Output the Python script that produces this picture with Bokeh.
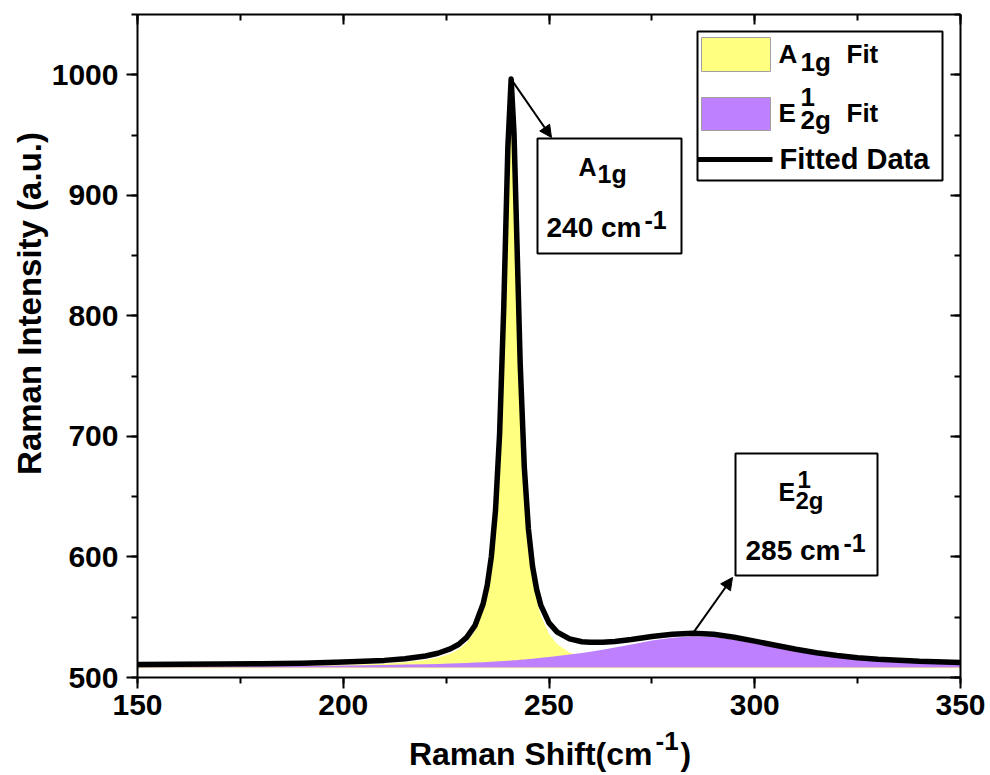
import math
from bokeh.plotting import figure
from bokeh.models import (Range1d, LinearAxis, SingleIntervalTicker, Label,
                          BoxAnnotation, Arrow, NormalHead, CustomJSTickFormatter)
from bokeh.embed import file_html
from bokeh.resources import INLINE

# ---------------- data ----------------
shift = [150, 160, 170, 180, 190, 200, 205, 210, 215, 220, 223, 226, 228, 230,
         232, 234, 235, 236, 237, 238, 239, 240, 240.8, 241.5, 242, 243, 244,
         245, 246, 247, 248, 250, 252, 255, 258, 260, 263, 266, 270, 275, 280,
         285, 290, 295, 300, 305, 310, 315, 320, 325, 330, 340, 350]

a1g_fit = [509.3, 509.4, 509.5, 509.7, 509.9, 510.5, 510.9, 511.5, 512.6, 514.5,
           516.5, 519.8, 523.3, 528.9, 538.3, 556.2, 571.5, 595.1, 633.1, 696.6,
           800.5, 933.3, 990.0, 944.8, 881.2, 753.4, 667.1, 615.6, 584.4, 564.7,
           551.5, 536.0, 527.6, 520.7, 517.0, 515.5, 513.9, 512.8, 511.8, 511.1,
           510.6, 510.2, 510.0, 509.8, 509.7, 509.6, 509.5, 509.4, 509.4, 509.3,
           509.3, 509.2, 509.2]

e2g_fit = [509.2, 509.3, 509.4, 509.5, 509.7, 510.0, 510.2, 510.4, 510.7, 511.0,
           511.3, 511.6, 511.8, 512.1, 512.4, 512.7, 512.9, 513.1, 513.3, 513.5,
           513.7, 513.9, 514.1, 514.3, 514.4, 514.7, 515.0, 515.3, 515.6, 516.0,
           516.3, 517.0, 517.8, 519.0, 520.4, 521.4, 523.0, 524.8, 527.4, 530.6,
           533.0, 534.3, 533.6, 531.3, 528.2, 524.8, 521.6, 518.8, 516.5, 514.8,
           513.5, 511.9, 511.0]

fitted = [510.8, 511.0, 511.2, 511.5, 511.9, 512.8, 513.4, 514.2, 515.6, 517.8,
          520.1, 523.7, 527.4, 533.3, 543.0, 561.2, 576.7, 600.5, 638.7, 702.4,
          806.5, 939.5, 996.4, 951.4, 887.9, 760.4, 674.4, 623.2, 592.3, 573.0,
          560.1, 545.3, 537.7, 532.0, 529.7, 529.2, 529.2, 529.9, 531.5, 534.0,
          535.9, 536.8, 535.9, 533.4, 530.2, 526.7, 523.4, 520.5, 518.2, 516.4,
          515.1, 513.4, 512.5]

a1g_base = 507.6
e2g_base = 508.2

x_limits = [150, 350]
y_limits = [500, 1050]
x_tick_step = 50
y_tick_step = 100

# ---------------- layout ----------------
FONT = "Liberation Sans"
W, H = 990, 775
FL, FR, FT, FB = 137, 960, 14, 677          # pixel box of the axes
X0, X1 = x_limits
Y0, Y1 = y_limits


def dx(px):
    return X0 + (px - FL) * (X1 - X0) / (FR - FL)


def dy(py):
    return Y0 + (FB - py) * (Y1 - Y0) / (FB - FT)


p = figure(width=W, height=H,
           x_range=Range1d(dx(0), dx(W)), y_range=Range1d(dy(H), dy(0)),
           output_backend="svg", toolbar_location=None,
           min_border=0, min_border_left=0, min_border_right=0,
           min_border_top=0, min_border_bottom=0)
p.background_fill_color = "white"
p.border_fill_color = "white"
p.outline_line_color = None
p.xgrid.visible = False
p.ygrid.visible = False

# fills and fitted line
p.varea(x=shift, y1=a1g_base, y2=a1g_fit, fill_color="#FFFF80")
p.varea(x=shift, y1=e2g_base, y2=e2g_fit, fill_color="#BF80FF")
p.line(shift, fitted, line_color="black", line_width=5.5, line_join="round")


def style_axis(ax, outward, step, bounds, loc, labels=True):
    ax.ticker = SingleIntervalTicker(interval=step, num_minor_ticks=2)
    ax.bounds = tuple(bounds)
    ax.fixed_location = loc
    ax.axis_line_width = 2
    ax.axis_line_color = "black"
    ax.major_tick_line_width = 2
    ax.minor_tick_line_width = 2
    if outward:
        ax.major_tick_out, ax.major_tick_in = 11, 0
        ax.minor_tick_out, ax.minor_tick_in = 6, 0
    else:
        ax.major_tick_out, ax.major_tick_in = 0, 10
        ax.minor_tick_out, ax.minor_tick_in = 0, 6
    ax.major_label_text_font = FONT
    ax.major_label_text_font_style = "bold"
    ax.major_label_text_font_size = "30px"
    ax.major_label_text_color = "black"
    if not labels:
        ax.formatter = CustomJSTickFormatter(code="return ''")


xa = p.xaxis[0]
style_axis(xa, True, x_tick_step, x_limits, Y0)
xa.major_label_standoff = 6

ya = p.yaxis[0]
style_axis(ya, True, y_tick_step, y_limits, X0)
ya.major_label_standoff = 8

top = LinearAxis()
style_axis(top, False, x_tick_step, x_limits, Y1, labels=False)
p.add_layout(top, "above")

right = LinearAxis()
style_axis(right, False, y_tick_step, y_limits, X1, labels=False)
p.add_layout(right, "right")


def lab(txt, px, py, size, align="left", angle=0.0, baseline="alphabetic"):
    if baseline == "alphabetic":
        py = py - 0.35 * size      # compensate for the text box below the baseline
    p.add_layout(Label(x=dx(px), y=dy(py), text=txt, text_font=FONT,
                       text_font_size=f"{size}px", text_font_style="bold",
                       text_align=align, text_baseline=baseline,
                       angle=angle, text_color="black"))


def box(l, r, t, b, fill="white", line="black", lw=2):
    p.add_layout(BoxAnnotation(left=dx(l), right=dx(r), top=dy(t), bottom=dy(b),
                               fill_color=fill, fill_alpha=1,
                               line_color=line, line_width=lw, line_alpha=1))


# axis titles
lab("Raman Intensity (a.u.)", 29, 303, 33, "center", math.pi / 2, "middle")
lab("Raman Shift(cm", 652, 765, 32, "right")
lab("-1", 655, 750, 26)
lab(")", 680, 765, 32)

# arrows from peaks to annotation boxes
i_a = fitted.index(max(fitted))
p.add_layout(Arrow(x_start=shift[i_a], y_start=fitted[i_a], x_end=dx(551), y_end=dy(137),
                   line_width=2, line_color="black",
                   end=NormalHead(size=12, fill_color="black", line_color="black")))
i_e = shift.index(285)
p.add_layout(Arrow(x_start=shift[i_e], y_start=fitted[i_e], x_end=dx(732), y_end=dy(577),
                   line_width=2, line_color="black",
                   end=NormalHead(size=12, fill_color="black", line_color="black")))

# annotation box A1g
box(537, 681, 138, 253)
lab("A", 578, 175, 25)
lab("1g", 597, 182, 25)
lab("240 cm", 546, 237, 28)
lab("-1", 644, 228, 25)

# annotation box E2g
box(735, 877, 453, 575)
lab("E", 778, 500, 25)
lab("1", 797, 487, 24)
lab("2g", 795, 508, 24)
lab("285 cm", 745, 560, 28)
lab("-1", 843, 551, 25)

# legend
box(697, 942, 31, 180)
box(701, 770, 37, 71, fill="#FFFF80", line="#A0A0A0", lw=1)
box(701, 770, 97, 130, fill="#BF80FF", line="#A0A0A0", lw=1)
box(697, 772, 156.5, 161.5, fill="black", line=None, lw=0)
lab("A", 778, 63, 26)
lab("1g", 800, 71, 26)
lab("Fit", 846, 63, 26)
lab("E", 778, 122, 26)
lab("1", 800, 106, 26)
lab("2g", 800, 129, 26)
lab("Fit", 846, 122, 26)
lab("Fitted Data", 779, 169, 29)

open("out.html", "w").write(file_html(p, INLINE))
